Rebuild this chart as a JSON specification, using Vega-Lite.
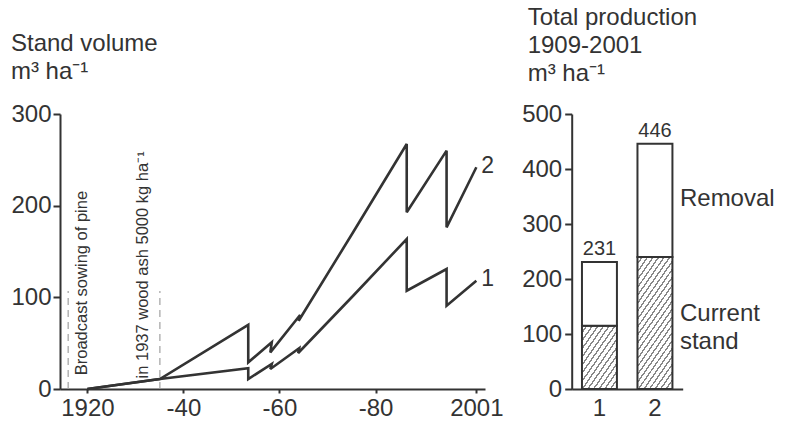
{
  "$schema": "https://vega.github.io/schema/vega-lite/v6.json",
  "padding": {"left": 10, "top": 6, "right": 5, "bottom": 5},
  "background": "white",
  "datasets": {
    "lines": [
      {"series": "2", "i": 1, "year": 1920, "volume": 0},
      {"series": "2", "i": 2, "year": 1935.1, "volume": 10.9},
      {"series": "2", "i": 3, "year": 1953.5, "volume": 70},
      {"series": "2", "i": 4, "year": 1953.5, "volume": 29.1},
      {"series": "2", "i": 5, "year": 1958.4, "volume": 51},
      {"series": "2", "i": 6, "year": 1958.1, "volume": 40},
      {"series": "2", "i": 7, "year": 1964.3, "volume": 80.7},
      {"series": "2", "i": 8, "year": 1964.0, "volume": 74.5},
      {"series": "2", "i": 9, "year": 1975.4, "volume": 171.5},
      {"series": "2", "i": 10, "year": 1986.5, "volume": 267.3},
      {"series": "2", "i": 11, "year": 1986.5, "volume": 192.8},
      {"series": "2", "i": 12, "year": 1994.8, "volume": 260},
      {"series": "2", "i": 13, "year": 1994.8, "volume": 176.4},
      {"series": "2", "i": 14, "year": 2001, "volume": 241.9},
      {"series": "1", "i": 1, "year": 1920, "volume": 0},
      {"series": "1", "i": 2, "year": 1935.1, "volume": 10.9},
      {"series": "1", "i": 3, "year": 1953.5, "volume": 22.7},
      {"series": "1", "i": 4, "year": 1953.5, "volume": 10.9},
      {"series": "1", "i": 5, "year": 1958.4, "volume": 27.3},
      {"series": "1", "i": 6, "year": 1958.1, "volume": 21.8},
      {"series": "1", "i": 7, "year": 1964.1, "volume": 44.4},
      {"series": "1", "i": 8, "year": 1963.9, "volume": 39.3},
      {"series": "1", "i": 9, "year": 1975.4, "volume": 102},
      {"series": "1", "i": 10, "year": 1986.5, "volume": 163.6},
      {"series": "1", "i": 11, "year": 1986.5, "volume": 107.2},
      {"series": "1", "i": 12, "year": 1994.8, "volume": 130.9},
      {"series": "1", "i": 13, "year": 1994.8, "volume": 90.9},
      {"series": "1", "i": 14, "year": 2001, "volume": 118.1}
    ],
    "events": [
      {"year": 1916, "base": 0, "top": 107, "label": "Broadcast sowing of pine", "labelYear": 1918.9, "labelAt": 15},
      {"year": 1935.1, "base": 0, "top": 107, "label": "in 1937 wood ash 5000 kg ha⁻¹", "labelYear": 1931.5, "labelAt": 11.5}
    ],
    "endLabels": [
      {"series": "2", "year": 2001, "volume": 243.5},
      {"series": "1", "year": 2001, "volume": 120}
    ],
    "production": [
      {"tree": "1", "stand": 115, "removal": 116, "total": 231},
      {"tree": "2", "stand": 240, "removal": 206, "total": 446}
    ],
    "partLabels": [
      {"tree": "2", "label": "Removal", "at": 333},
      {"tree": "2", "label": "Current", "at": 124},
      {"tree": "2", "label": "stand", "at": 73}
    ]
  },
  "hconcat": [
    {
      "width": 425,
      "height": 275,
      "title": {"text": ["Stand volume", "m³ ha⁻¹"], "anchor": "start", "frame": "bounds", "offset": 18},
      "layer": [
        {
          "data": {"name": "lines"},
          "mark": {"type": "line", "color": "#333", "strokeWidth": 2.6, "strokeJoin": "miter", "strokeMiterLimit": 3},
          "encoding": {
            "x": {"field": "year", "type": "quantitative", "title": null,
                  "scale": {"domain": [1914.3, 2002.8], "nice": false, "zero": false},
                  "axis": {"values": [1920, 1940, 1960, 1980, 2001], "labelExpr": "datum.value == 1920 || datum.value == 2001 ? '' + datum.value : '-' + (datum.value % 100)", "tickSize": 4, "labelPadding": 3}},
            "y": {"field": "volume", "type": "quantitative", "title": null,
                  "scale": {"domain": [0, 300], "nice": false},
                  "axis": {"values": [0, 100, 200, 300], "tickSize": 7, "labelPadding": 2}},
            "detail": {"field": "series", "type": "nominal"},
            "order": {"field": "i", "type": "quantitative"}
          }
        },
        {
          "data": {"name": "events"},
          "mark": {"type": "rule", "color": "#a0a0a0", "strokeWidth": 1.2, "strokeDash": [7, 5]},
          "encoding": {
            "x": {"field": "year", "type": "quantitative"},
            "y": {"field": "base", "type": "quantitative"},
            "y2": {"field": "top"}
          }
        },
        {
          "data": {"name": "events"},
          "mark": {"type": "text", "angle": 270, "align": "left", "baseline": "middle", "fontSize": 16.5, "color": "#333"},
          "encoding": {
            "x": {"field": "labelYear", "type": "quantitative"},
            "y": {"field": "labelAt", "type": "quantitative"},
            "text": {"field": "label", "type": "nominal"}
          }
        },
        {
          "data": {"name": "endLabels"},
          "mark": {"type": "text", "align": "left", "baseline": "middle", "dx": 5, "fontSize": 23, "color": "#333"},
          "encoding": {
            "x": {"field": "year", "type": "quantitative"},
            "y": {"field": "volume", "type": "quantitative"},
            "text": {"field": "series", "type": "nominal"}
          }
        }
      ]
    },
    {
      "width": 111,
      "height": 275,
      "title": {"text": ["Total production", "1909-2001", "m³ ha⁻¹"], "anchor": "start", "frame": "bounds", "offset": 16, "dx": 6},
      "data": {"name": "production"},
      "layer": [
        {
          "transform": [{"filter": "datum.tree == '1'"}],
          "mark": {"type": "bar", "stroke": "#333", "strokeWidth": 2,
                   "fill": {"gradient": "linear", "x1": 0, "y1": 0, "x2": 0.874, "y2": 1.1006, "stops": [
                     {"offset": 0, "color": "#fff"}, {"offset": 0.05, "color": "#fff"}, {"offset": 0.05, "color": "#888"}, {"offset": 0.0714, "color": "#888"},
                     {"offset": 0.0714, "color": "#fff"}, {"offset": 0.1214, "color": "#fff"}, {"offset": 0.1214, "color": "#888"}, {"offset": 0.1429, "color": "#888"},
                     {"offset": 0.1429, "color": "#fff"}, {"offset": 0.1929, "color": "#fff"}, {"offset": 0.1929, "color": "#888"}, {"offset": 0.2143, "color": "#888"},
                     {"offset": 0.2143, "color": "#fff"}, {"offset": 0.2643, "color": "#fff"}, {"offset": 0.2643, "color": "#888"}, {"offset": 0.2857, "color": "#888"},
                     {"offset": 0.2857, "color": "#fff"}, {"offset": 0.3357, "color": "#fff"}, {"offset": 0.3357, "color": "#888"}, {"offset": 0.3571, "color": "#888"},
                     {"offset": 0.3571, "color": "#fff"}, {"offset": 0.4071, "color": "#fff"}, {"offset": 0.4071, "color": "#888"}, {"offset": 0.4286, "color": "#888"},
                     {"offset": 0.4286, "color": "#fff"}, {"offset": 0.4786, "color": "#fff"}, {"offset": 0.4786, "color": "#888"}, {"offset": 0.5, "color": "#888"},
                     {"offset": 0.5, "color": "#fff"}, {"offset": 0.55, "color": "#fff"}, {"offset": 0.55, "color": "#888"}, {"offset": 0.5714, "color": "#888"},
                     {"offset": 0.5714, "color": "#fff"}, {"offset": 0.6214, "color": "#fff"}, {"offset": 0.6214, "color": "#888"}, {"offset": 0.6429, "color": "#888"},
                     {"offset": 0.6429, "color": "#fff"}, {"offset": 0.6929, "color": "#fff"}, {"offset": 0.6929, "color": "#888"}, {"offset": 0.7143, "color": "#888"},
                     {"offset": 0.7143, "color": "#fff"}, {"offset": 0.7643, "color": "#fff"}, {"offset": 0.7643, "color": "#888"}, {"offset": 0.7857, "color": "#888"},
                     {"offset": 0.7857, "color": "#fff"}, {"offset": 0.8357, "color": "#fff"}, {"offset": 0.8357, "color": "#888"}, {"offset": 0.8571, "color": "#888"},
                     {"offset": 0.8571, "color": "#fff"}, {"offset": 0.9071, "color": "#fff"}, {"offset": 0.9071, "color": "#888"}, {"offset": 0.9286, "color": "#888"},
                     {"offset": 0.9286, "color": "#fff"}, {"offset": 0.9786, "color": "#fff"}, {"offset": 0.9786, "color": "#888"}, {"offset": 1, "color": "#888"}
                   ]}},
          "encoding": {
            "x": {"field": "tree", "type": "nominal", "title": null,
                  "scale": {"domain": ["1", "2"], "paddingInner": 0.37, "paddingOuter": 0.185},
                  "axis": {"labelAngle": 0, "ticks": false, "labelPadding": 7}},
            "y": {"field": "stand", "type": "quantitative", "title": null,
                  "scale": {"domain": [0, 500], "nice": false},
                  "axis": {"values": [0, 100, 200, 300, 400, 500], "tickSize": 7, "labelPadding": 3}}
          }
        },
        {
          "transform": [{"filter": "datum.tree == '2'"}],
          "mark": {"type": "bar", "stroke": "#333", "strokeWidth": 2,
                   "fill": {"gradient": "linear", "x1": 0, "y1": 0, "x2": 0.457, "y2": 1.206, "stops": [
                     {"offset": 0, "color": "#fff"}, {"offset": 0.0304, "color": "#fff"}, {"offset": 0.0304, "color": "#888"}, {"offset": 0.0435, "color": "#888"},
                     {"offset": 0.0435, "color": "#fff"}, {"offset": 0.0739, "color": "#fff"}, {"offset": 0.0739, "color": "#888"}, {"offset": 0.087, "color": "#888"},
                     {"offset": 0.087, "color": "#fff"}, {"offset": 0.1174, "color": "#fff"}, {"offset": 0.1174, "color": "#888"}, {"offset": 0.1304, "color": "#888"},
                     {"offset": 0.1304, "color": "#fff"}, {"offset": 0.1609, "color": "#fff"}, {"offset": 0.1609, "color": "#888"}, {"offset": 0.1739, "color": "#888"},
                     {"offset": 0.1739, "color": "#fff"}, {"offset": 0.2043, "color": "#fff"}, {"offset": 0.2043, "color": "#888"}, {"offset": 0.2174, "color": "#888"},
                     {"offset": 0.2174, "color": "#fff"}, {"offset": 0.2478, "color": "#fff"}, {"offset": 0.2478, "color": "#888"}, {"offset": 0.2609, "color": "#888"},
                     {"offset": 0.2609, "color": "#fff"}, {"offset": 0.2913, "color": "#fff"}, {"offset": 0.2913, "color": "#888"}, {"offset": 0.3043, "color": "#888"},
                     {"offset": 0.3043, "color": "#fff"}, {"offset": 0.3348, "color": "#fff"}, {"offset": 0.3348, "color": "#888"}, {"offset": 0.3478, "color": "#888"},
                     {"offset": 0.3478, "color": "#fff"}, {"offset": 0.3783, "color": "#fff"}, {"offset": 0.3783, "color": "#888"}, {"offset": 0.3913, "color": "#888"},
                     {"offset": 0.3913, "color": "#fff"}, {"offset": 0.4217, "color": "#fff"}, {"offset": 0.4217, "color": "#888"}, {"offset": 0.4348, "color": "#888"},
                     {"offset": 0.4348, "color": "#fff"}, {"offset": 0.4652, "color": "#fff"}, {"offset": 0.4652, "color": "#888"}, {"offset": 0.4783, "color": "#888"},
                     {"offset": 0.4783, "color": "#fff"}, {"offset": 0.5087, "color": "#fff"}, {"offset": 0.5087, "color": "#888"}, {"offset": 0.5217, "color": "#888"},
                     {"offset": 0.5217, "color": "#fff"}, {"offset": 0.5522, "color": "#fff"}, {"offset": 0.5522, "color": "#888"}, {"offset": 0.5652, "color": "#888"},
                     {"offset": 0.5652, "color": "#fff"}, {"offset": 0.5957, "color": "#fff"}, {"offset": 0.5957, "color": "#888"}, {"offset": 0.6087, "color": "#888"},
                     {"offset": 0.6087, "color": "#fff"}, {"offset": 0.6391, "color": "#fff"}, {"offset": 0.6391, "color": "#888"}, {"offset": 0.6522, "color": "#888"},
                     {"offset": 0.6522, "color": "#fff"}, {"offset": 0.6826, "color": "#fff"}, {"offset": 0.6826, "color": "#888"}, {"offset": 0.6957, "color": "#888"},
                     {"offset": 0.6957, "color": "#fff"}, {"offset": 0.7261, "color": "#fff"}, {"offset": 0.7261, "color": "#888"}, {"offset": 0.7391, "color": "#888"},
                     {"offset": 0.7391, "color": "#fff"}, {"offset": 0.7696, "color": "#fff"}, {"offset": 0.7696, "color": "#888"}, {"offset": 0.7826, "color": "#888"},
                     {"offset": 0.7826, "color": "#fff"}, {"offset": 0.813, "color": "#fff"}, {"offset": 0.813, "color": "#888"}, {"offset": 0.8261, "color": "#888"},
                     {"offset": 0.8261, "color": "#fff"}, {"offset": 0.8565, "color": "#fff"}, {"offset": 0.8565, "color": "#888"}, {"offset": 0.8696, "color": "#888"},
                     {"offset": 0.8696, "color": "#fff"}, {"offset": 0.9, "color": "#fff"}, {"offset": 0.9, "color": "#888"}, {"offset": 0.913, "color": "#888"},
                     {"offset": 0.913, "color": "#fff"}, {"offset": 0.9435, "color": "#fff"}, {"offset": 0.9435, "color": "#888"}, {"offset": 0.9565, "color": "#888"},
                     {"offset": 0.9565, "color": "#fff"}, {"offset": 0.987, "color": "#fff"}, {"offset": 0.987, "color": "#888"}, {"offset": 1, "color": "#888"}
                   ]}},
          "encoding": {
            "x": {"field": "tree", "type": "nominal"},
            "y": {"field": "stand", "type": "quantitative"}
          }
        },
        {
          "mark": {"type": "bar", "fill": "white", "stroke": "#333", "strokeWidth": 2},
          "encoding": {
            "x": {"field": "tree", "type": "nominal"},
            "y": {"field": "total", "type": "quantitative"},
            "y2": {"field": "stand"}
          }
        },
        {
          "mark": {"type": "text", "baseline": "alphabetic", "dy": -7, "fontSize": 20, "color": "#333"},
          "encoding": {
            "x": {"field": "tree", "type": "nominal"},
            "y": {"field": "total", "type": "quantitative"},
            "text": {"field": "total", "type": "quantitative"}
          }
        },
        {
          "data": {"name": "partLabels"},
          "mark": {"type": "text", "align": "left", "baseline": "alphabetic", "dx": 25, "fontSize": 24, "color": "#333"},
          "encoding": {
            "x": {"field": "tree", "type": "nominal"},
            "y": {"field": "at", "type": "quantitative"},
            "text": {"field": "label", "type": "nominal"}
          }
        }
      ]
    }
  ],
  "spacing": 86.7,
  "bounds": "flush",
  "config": {
    "view": {"stroke": null},
    "font": "Liberation Sans",
    "axis": {"domainColor": "#333", "domainWidth": 2, "tickColor": "#333", "tickWidth": 2, "labelColor": "#333", "labelFontSize": 24, "labelFont": "Liberation Sans", "grid": false},
    "title": {"fontSize": 24, "fontWeight": "normal", "font": "Liberation Sans", "color": "#333", "lineHeight": 28}
  }
}
